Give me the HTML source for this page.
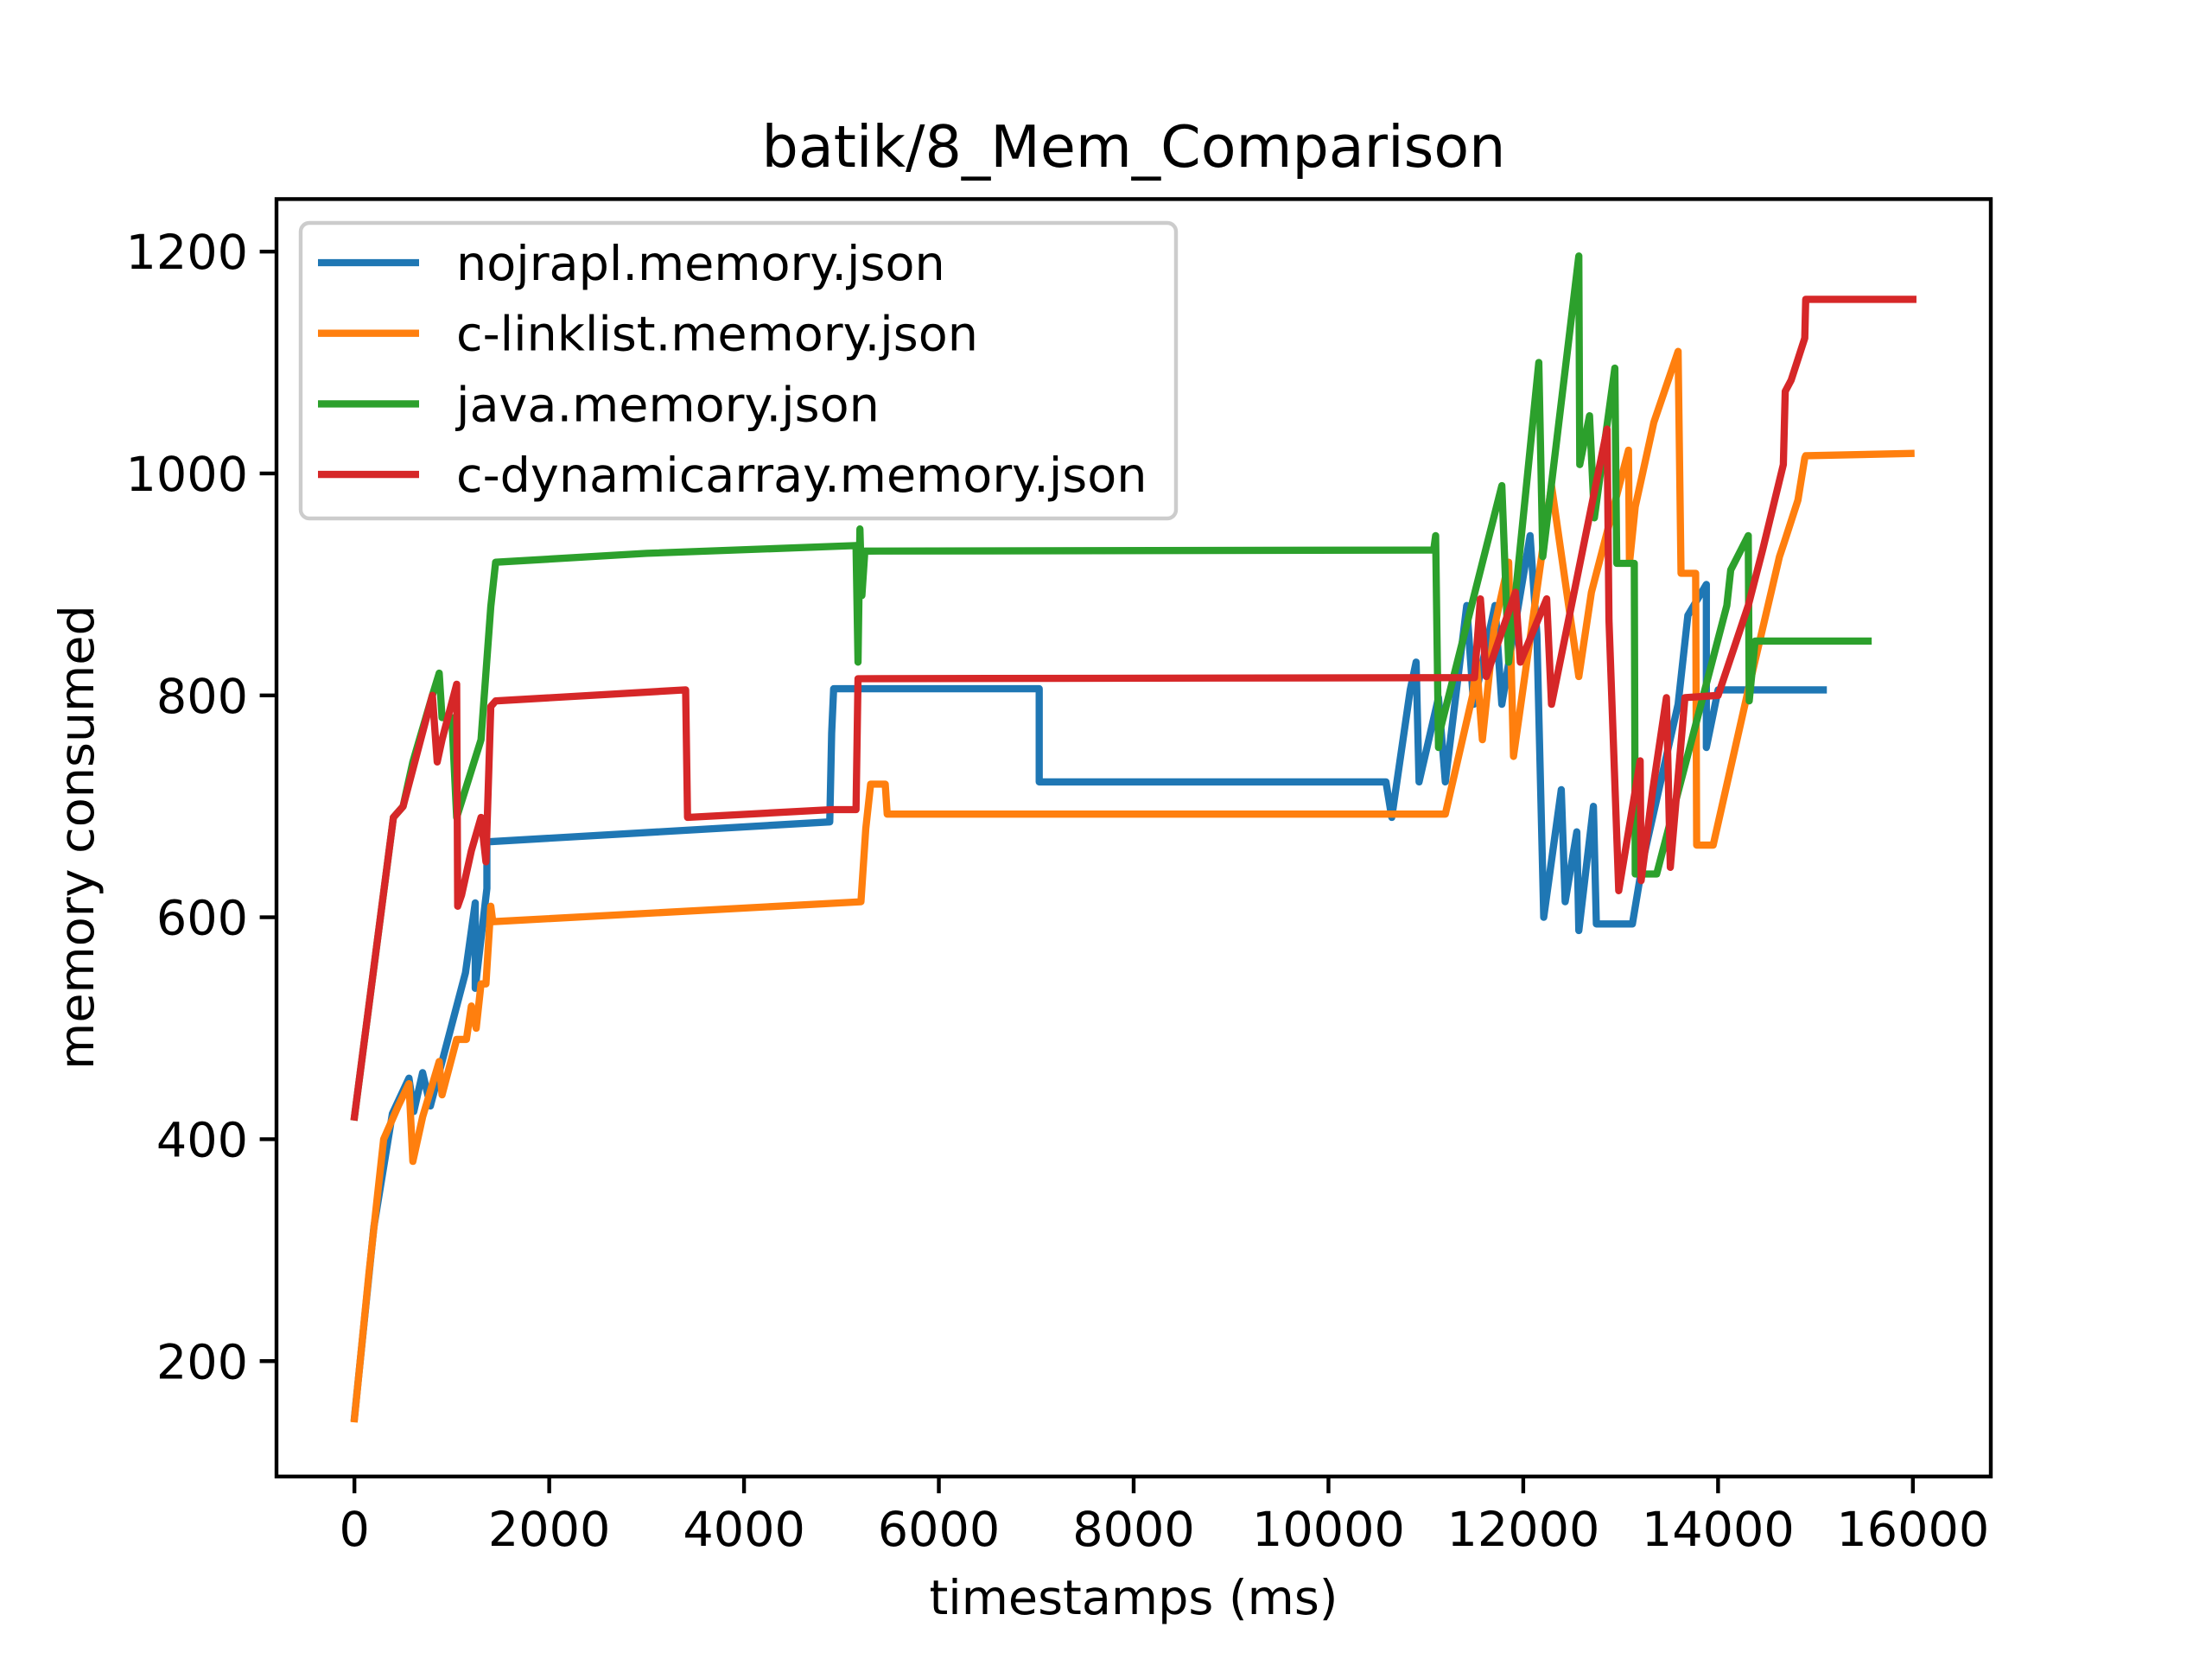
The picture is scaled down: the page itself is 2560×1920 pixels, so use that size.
<!DOCTYPE html>
<html><head><meta charset="utf-8"><style>
body{margin:0;background:#fff}
svg{display:block;font-family:"DejaVu Sans","Liberation Sans",sans-serif}
</style></head><body>
<svg id="chart" width="2560" height="1920" viewBox="0 0 2560 1920">
<rect width="2560" height="1920" fill="#fff"/>
<text x="1312" y="193" font-size="66.7" text-anchor="middle">batik/8_Mem_Comparison</text>
<g id="plot"></g>
<g id="axes"></g>
<rect x="320" y="230.4" width="1984" height="1478.4" fill="none" stroke="#000" stroke-width="4.4"/>
<text x="1312" y="1868" font-size="55.6" text-anchor="middle">timestamps (ms)</text>
<text x="0" y="0" font-size="55.6" text-anchor="middle" transform="translate(108,969) rotate(-90)">memory consumed</text>
<g id="legend">
<rect x="348" y="258" width="1013" height="342" rx="10" fill="#fff" fill-opacity="0.8" stroke="#ccc" stroke-width="4.4"/>
</g>
</svg>
<script>
const seriesNames=["nojrapl.memory.json","c-linklist.memory.json","java.memory.json","c-dynamicarray.memory.json"];
const seriesColors=["#1f77b4","#ff7f0e","#2ca02c","#d62728"];
const xTicks=[0,2000,4000,6000,8000,10000,12000,14000,16000];
const yTicks=[200,400,600,800,1000,1200];
const blueX=[0,200,390,560,610,700,780,1140,1240,1240,1360,1360,4880,4900,4920,7030,7030,10590,10650,10840,10900,10930,11130,11200,11420,11490,11710,11780,12070,12140,12210,12390,12430,12550,12570,12720,12750,13120,13230,13590,13690,13880,13880,14000,15080];
const blueY=[149,321,423,455,425,460,430,550,613,536,626,668,686,766,806,806,722,722,690,805,830,722,798,722,881,792,881,792,944,855,600,715,614,677,588,700,594,594,652,792,872,900,753,805,805];
const orangeX=[0,150,300,450,560,600,700,870,900,1050,1150,1200,1250,1300,1350,1400,1420,5200,5250,5300,5450,5470,11200,11480,11520,11580,11700,11850,11900,12100,12290,12570,12700,13080,13090,13150,13340,13590,13620,13770,13780,13950,14310,14630,14680,14820,14890,14900,15980];
const orangeY=[148,280,400,430,450,380,420,470,440,490,490,520,500,540,540,610,596,614,680,720,720,693,693,800,830,760,860,920,745,870,989,817,893,1021,919,970,1046,1110,910,910,665,665,805,925,938,976,1014,1016,1018];
const greenX=[0,400,500,600,800,870,900,1000,1050,1300,1400,1450,3000,5150,5170,5190,5210,5240,11080,11100,11130,11150,11780,11850,12160,12200,12570,12580,12680,12730,12940,12960,13050,13140,13150,13370,14090,14130,14310,14320,14380,15540];
const greenY=[420,690,700,740,800,820,780,780,690,760,880,920,928,935,830,950,890,930,931,944,753,770,989,830,1100,925,1196,1008,1052,960,1095,919,919,919,639,639,881,913,944,795,849,849];
const redX=[0,400,500,800,850,900,1050,1060,1100,1200,1300,1350,1400,1450,3400,3420,4900,5150,5170,11500,11560,11620,11920,11970,12240,12290,12860,12880,12980,13200,13210,13330,13470,13510,13660,14000,14310,14460,14670,14690,14750,14890,14900,16000];
const redY=[420,690,700,800,740,760,810,610,620,660,690,650,790,795,805,690,697,697,815,816,887,817,893,830,887,792,1040,868,624,741,633,715,798,645,798,800,881,932,1008,1074,1084,1122,1157,1157];
const allX=[blueX,orangeX,greenX,redX], allY=[blueY,orangeY,greenY,redY];
const NS="http://www.w3.org/2000/svg";
const L=320,R=2304,T=230.4,B=1708.8,x0=-800,x1=16800,y0=96,y1=1247.3;
const sx=v=>L+(v-x0)/(x1-x0)*(R-L);
const sy=v=>B-(v-y0)/(y1-y0)*(B-T);
const plot=document.getElementById('plot'),axes=document.getElementById('axes'),leg=document.getElementById('legend');
for(let s=0;s<4;s++){
 const p=document.createElementNS(NS,'polyline');
 p.setAttribute('points',allX[s].map((x,i)=>sx(x).toFixed(1)+','+sy(allY[s][i]).toFixed(1)).join(' '));
 p.setAttribute('fill','none');p.setAttribute('stroke',seriesColors[s]);p.setAttribute('stroke-width','8.33');
 p.setAttribute('stroke-linejoin','round');p.setAttribute('stroke-linecap','square');
 
 
 plot.appendChild(p);
}
xTicks.forEach(v=>{
 const l=document.createElementNS(NS,'line');
 l.setAttribute('x1',sx(v));l.setAttribute('x2',sx(v));l.setAttribute('y1',B);l.setAttribute('y2',B+19.4);
 l.setAttribute('stroke','#000');l.setAttribute('stroke-width','4.4');
 
 
 axes.appendChild(l);
 const t=document.createElementNS(NS,'text');
 t.setAttribute('x',sx(v));t.setAttribute('y',B+80);t.setAttribute('font-size','55.6');t.setAttribute('text-anchor','middle');
 t.textContent=v;
 
 
 axes.appendChild(t);
});
yTicks.forEach(v=>{
 const l=document.createElementNS(NS,'line');
 l.setAttribute('x1',L-19.4);l.setAttribute('x2',L);l.setAttribute('y1',sy(v));l.setAttribute('y2',sy(v));
 l.setAttribute('stroke','#000');l.setAttribute('stroke-width','4.4');
 
 
 axes.appendChild(l);
 const t=document.createElementNS(NS,'text');
 t.setAttribute('x',L-33);t.setAttribute('y',sy(v)+20);t.setAttribute('font-size','55.6');t.setAttribute('text-anchor','end');
 t.textContent=v;
 
 
 axes.appendChild(t);
});
seriesNames.forEach((n,i)=>{
 const y=304+i*81.7;
 const l=document.createElementNS(NS,'line');
 l.setAttribute('x1',368);l.setAttribute('x2',485);l.setAttribute('y1',y);l.setAttribute('y2',y);
 l.setAttribute('stroke',seriesColors[i]);l.setAttribute('stroke-width','8.33');
 
 
 leg.appendChild(l);
 const t=document.createElementNS(NS,'text');
 t.setAttribute('x',528);t.setAttribute('y',y+20);t.setAttribute('font-size','55.6');
 t.textContent=n;
 
 
 leg.appendChild(t);
});
</script>
</body></html>
